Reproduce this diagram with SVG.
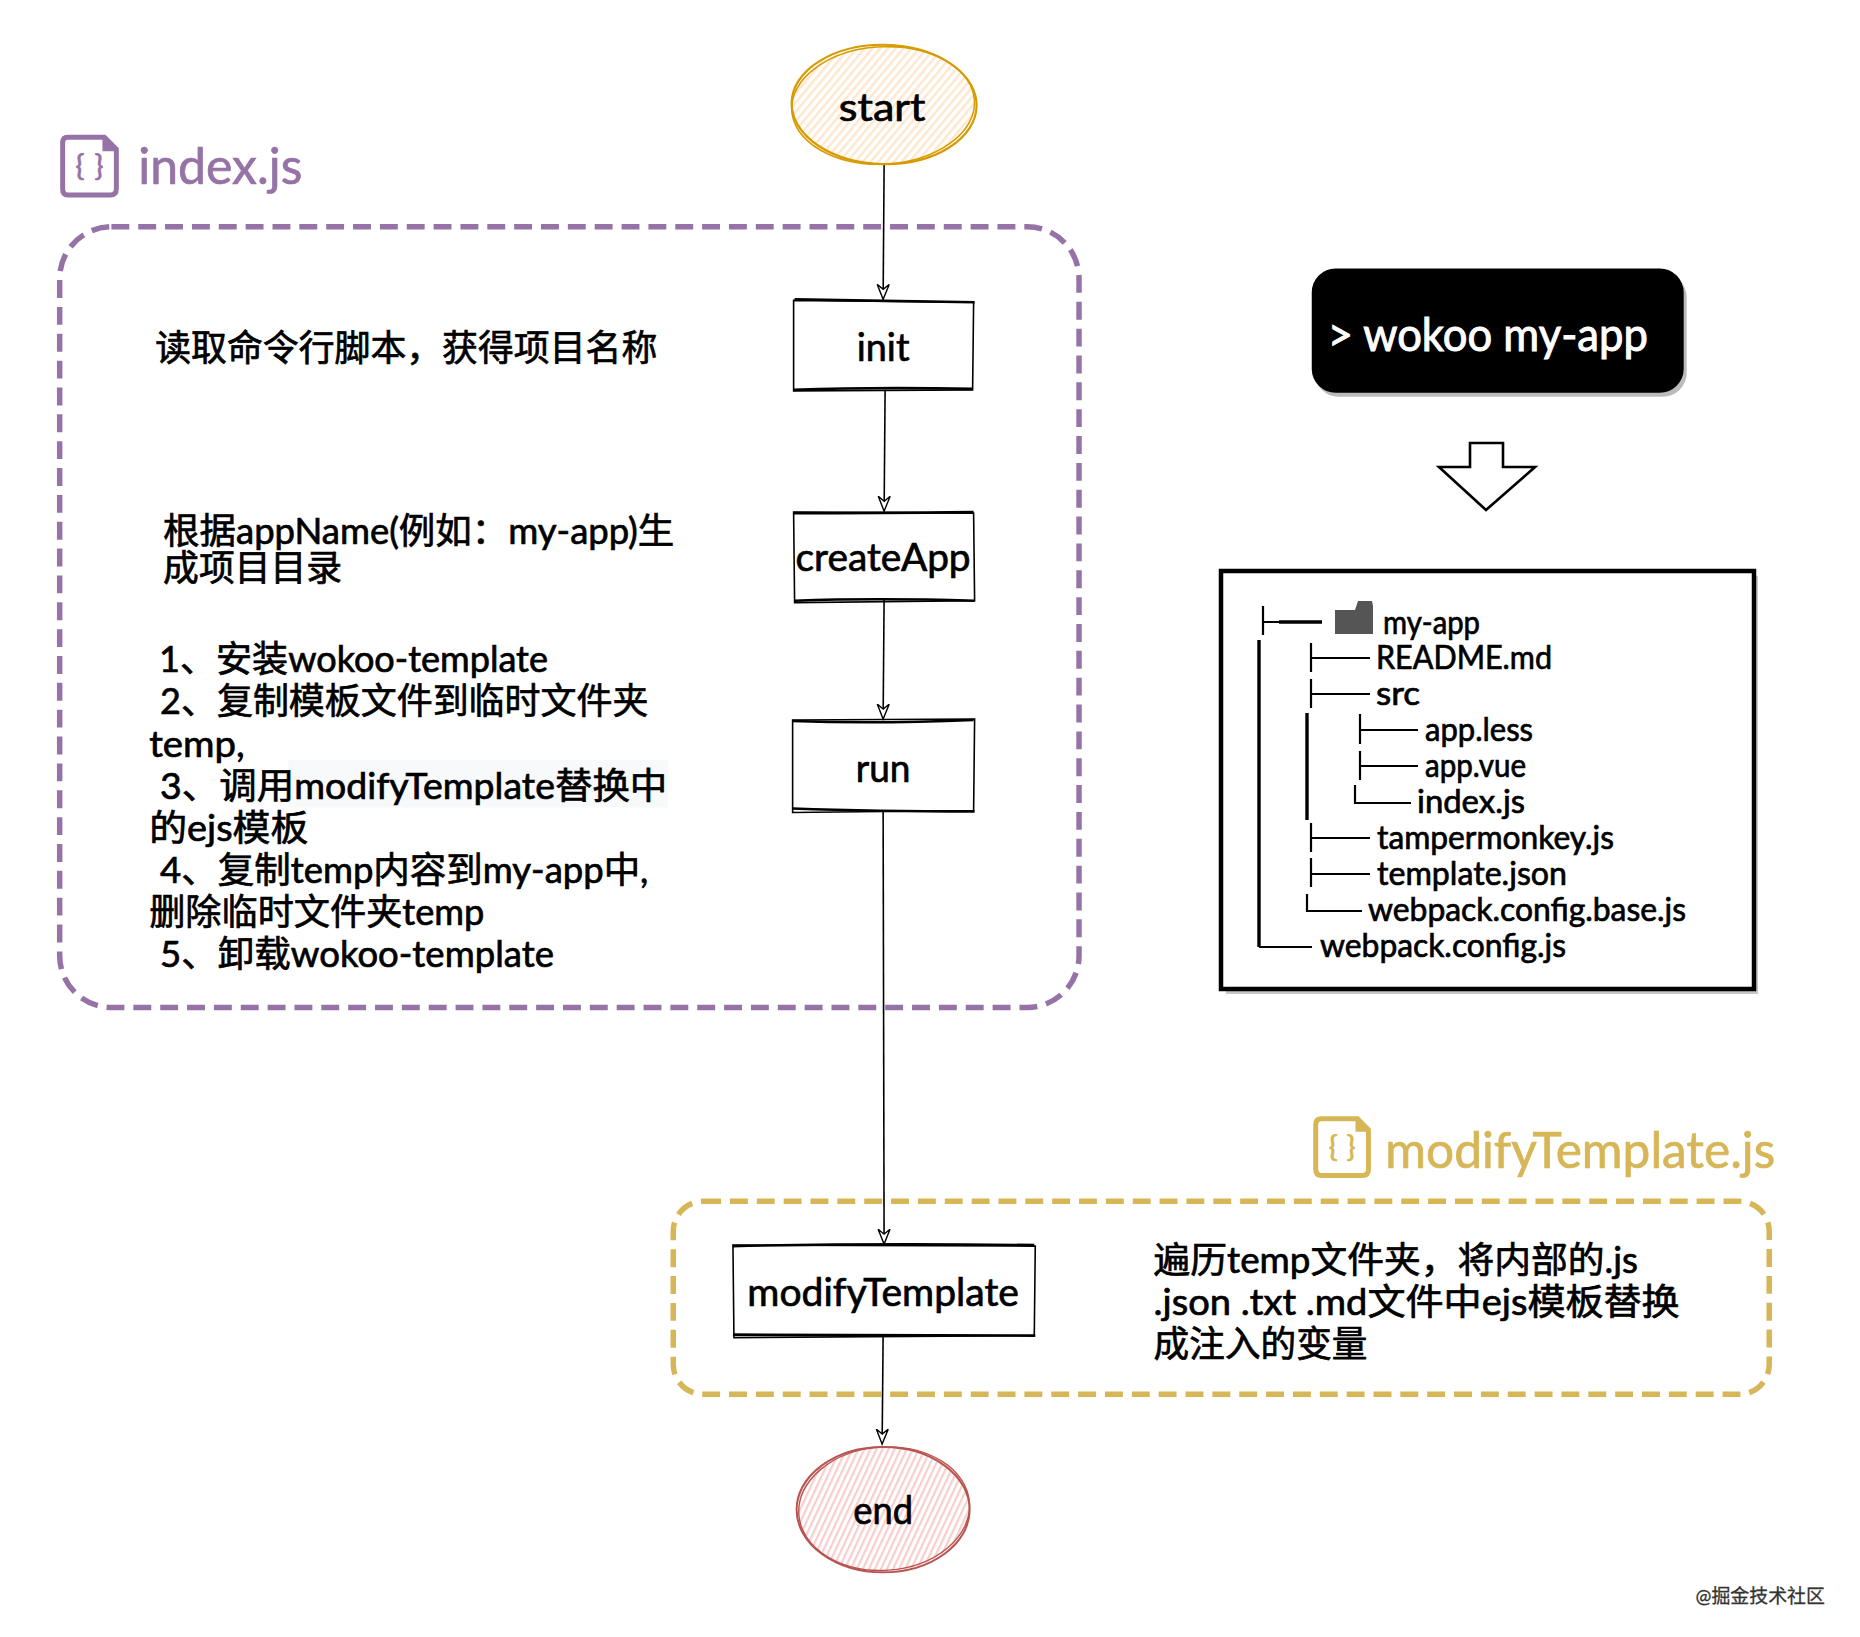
<svg xmlns="http://www.w3.org/2000/svg" width="1860" height="1637" viewBox="0 0 1860 1637">
<style>
text{font-family:"Lato","Noto Sans CJK SC","Noto Sans",sans-serif;fill:#000;stroke:#000;stroke-width:.7}
.lbl{font-size:38px;text-anchor:middle}
.t{font-size:36px}
.tree{font-size:32px}
.sk{fill:none;stroke:#000;stroke-width:1.6}
.skb{fill:none;stroke:#000;stroke-width:2.6}
.e{stroke:#000;stroke-width:1.6;fill:none;marker-end:url(#arr)}
.tl{fill:none;stroke:#000;stroke-width:2.2}
.tlb{fill:none;stroke:#000;stroke-width:3.4}
.pur{fill:#9673a6;stroke:#9673a6}
.yel{fill:#d6b656;stroke:#d6b656}
</style>
<defs>
<marker id="arr" markerUnits="userSpaceOnUse" markerWidth="20" markerHeight="18" refX="15" refY="7" orient="auto" viewBox="0 0 20 14">
<path d="M0,1 L15,7 L0,13 L5,7 Z" fill="#fff" stroke="#000" stroke-width="1.4"/>
</marker>
<pattern id="hOrange" width="6" height="6" patternUnits="userSpaceOnUse" patternTransform="rotate(-50)">
<rect width="6" height="6" fill="#fff"/><rect width="6" height="2.4" fill="#ffe6cc"/>
</pattern>
<pattern id="hRed" width="5.5" height="5.5" patternUnits="userSpaceOnUse" patternTransform="rotate(-65)">
<rect width="5.5" height="5.5" fill="#fff"/><rect width="5.5" height="2.2" fill="#f8cecc"/>
</pattern>
</defs>
<rect width="1860" height="1637" fill="#fff"/>

<g id="scaled" transform="scale(0.9945)">
<g id="index-group">
<rect x="60" y="228" width="1025" height="785" rx="52" fill="none" stroke="#9673a6" stroke-width="5.5" stroke-dasharray="18 9"/>
<path d="M68,138 H105 L117,150 V190 Q117,196 111,196 H68 Q63,196 63,190 V144 Q63,138 68,138 Z" fill="none" stroke="#9673a6" stroke-width="5"/>
<path d="M103,138 L117,152 H103 Z" fill="#9673a6"/>
<text class="pur" x="76" y="177" font-size="30" textLength="28" lengthAdjust="spacing">{}</text>
<text class="pur" x="139" y="185" font-size="50" textLength="165" lengthAdjust="spacingAndGlyphs">index.js</text>
</g>

<g id="modify-group">
<rect x="677" y="1208" width="1102" height="194" rx="30" fill="none" stroke="#d6b656" stroke-width="5.5" stroke-dasharray="18 9"/>
<path d="M1329,1125 H1365 L1376,1136 V1176 Q1376,1182 1370,1182 H1329 Q1323,1182 1323,1176 V1131 Q1323,1125 1329,1125 Z" fill="none" stroke="#d6b656" stroke-width="5"/>
<path d="M1363,1125 L1376,1138 H1363 Z" fill="#d6b656"/>
<text class="yel" x="1336" y="1163" font-size="30" textLength="27" lengthAdjust="spacing">{}</text>
<text class="yel" x="1393" y="1174" font-size="50" textLength="392" lengthAdjust="spacingAndGlyphs">modifyTemplate.js</text>
</g>

<g id="connectors">
<path class="e" d="M889,166 L888,301"/>
<path class="e" d="M890,392 L889,514"/>
<path class="e" d="M889,602 L888,723"/>
<path class="e" d="M888,815 L889,1251"/>
<path class="e" d="M888,1343 L887,1452"/>
</g>

<g id="start">
<ellipse cx="888" cy="105" rx="92" ry="59" fill="url(#hOrange)"/>
<ellipse cx="889" cy="105" rx="93" ry="60" fill="none" stroke="#d79b00" stroke-width="2.2" transform="rotate(1 889 105)"/>
<ellipse cx="888" cy="106" rx="92" ry="59" fill="none" stroke="#d79b00" stroke-width="1.6" transform="rotate(-3 888 106)"/>
<text class="lbl" x="887" y="122" textLength="87" lengthAdjust="spacingAndGlyphs">start</text>
</g>

<g id="init">
<path class="sk" d="M798,302 L979,304 L978,392 L798,393 Z"/>
<path class="skb" d="M799,301 Q880,302 980,304 M798,392 Q880,389 978,391"/>
<text class="lbl" x="888" y="363" textLength="53" lengthAdjust="spacingAndGlyphs">init</text>
</g>

<g id="createApp">
<path class="sk" d="M798,515 L979,516 L980,604 L799,606 Z"/>
<path class="skb" d="M798,516 Q880,516 979,515 M799,604 Q880,601 980,604"/>
<text class="lbl" x="888" y="574" textLength="176" lengthAdjust="spacingAndGlyphs">createApp</text>
</g>

<g id="run">
<path class="sk" d="M797,724 L980,723 L979,815 L797,817 Z"/>
<path class="skb" d="M797,725 Q880,728 979,724 M797,813 Q880,816 980,816"/>
<text class="lbl" x="888" y="786" textLength="55" lengthAdjust="spacingAndGlyphs">run</text>
</g>

<g id="modifyTemplate">
<path class="sk" d="M737,1252 L1041,1253 L1040,1343 L738,1345 Z"/>
<path class="skb" d="M737,1253 Q880,1250 1040,1252 M737,1342 Q880,1342 1041,1343"/>
<text class="lbl" x="888" y="1313" textLength="273" lengthAdjust="spacingAndGlyphs">modifyTemplate</text>
</g>

<g id="end">
<ellipse cx="888" cy="1518" rx="86" ry="62" fill="url(#hRed)"/>
<ellipse cx="888" cy="1518" rx="87" ry="63" fill="none" stroke="#b85450" stroke-width="2"/>
<ellipse cx="889" cy="1517" rx="86" ry="62" fill="none" stroke="#b85450" stroke-width="1.4" transform="rotate(-4 889 1517)"/>
<text class="lbl" x="888" y="1532" textLength="60" lengthAdjust="spacingAndGlyphs">end</text>
</g>

<g id="text-init"><text class="t" x="156" y="363" textLength="505" lengthAdjust="spacingAndGlyphs">读取命令行脚本，获得项目名称</text></g>

<g id="text-createApp">
<text class="t" x="164" y="547" textLength="514" lengthAdjust="spacingAndGlyphs">根据appName(例如：my-app)生</text>
<text class="t" x="164" y="584" textLength="180" lengthAdjust="spacingAndGlyphs">成项目目录</text>
</g>

<g id="text-run">
<rect x="290" y="764" width="382" height="48" fill="#f8f9fa"/>
<text class="t" x="160" y="676" textLength="391" lengthAdjust="spacingAndGlyphs">1、安装wokoo-template</text>
<text class="t" x="161" y="718" textLength="491" lengthAdjust="spacingAndGlyphs">2、复制模板文件到临时文件夹</text>
<text class="t" x="150" y="761" textLength="96" lengthAdjust="spacingAndGlyphs">temp,</text>
<text class="t" x="161" y="803" textLength="510" lengthAdjust="spacingAndGlyphs">3、调用modifyTemplate替换中</text>
<text class="t" x="150" y="846" textLength="160" lengthAdjust="spacingAndGlyphs">的ejs模板</text>
<text class="t" x="161" y="888" textLength="491" lengthAdjust="spacingAndGlyphs">4、复制temp内容到my-app中,</text>
<text class="t" x="150" y="930" textLength="337" lengthAdjust="spacingAndGlyphs">删除临时文件夹temp</text>
<text class="t" x="161" y="972" textLength="396" lengthAdjust="spacingAndGlyphs">5、卸载wokoo-template</text>
</g>

<g id="text-modify">
<text class="t" x="1160" y="1280" textLength="487" lengthAdjust="spacingAndGlyphs">遍历temp文件夹，将内部的.js</text>
<text class="t" x="1160" y="1322" textLength="529" lengthAdjust="spacingAndGlyphs">.json .txt .md文件中ejs模板替换</text>
<text class="t" x="1160" y="1365" textLength="215" lengthAdjust="spacingAndGlyphs">成注入的变量</text>
</g>

<g id="command">
<rect x="1322" y="275" width="374" height="124" rx="24" fill="#bbb"/>
<rect x="1319" y="270" width="374" height="125" rx="24" fill="#000"/>
<text x="1335" y="353" font-size="46" style="fill:#fff;stroke:#fff;stroke-width:1" textLength="322" lengthAdjust="spacingAndGlyphs">&gt; wokoo my-app</text>
</g>

<g id="watermark"><text x="1705" y="1612" font-size="20" style="fill:#333;stroke:#333;stroke-width:.3" textLength="130" lengthAdjust="spacingAndGlyphs">@掘金技术社区</text></g>
</g>

<g id="down-arrow">
<path d="M1470,443 H1503 V467 H1535 L1486,510 L1439,467 H1470 Z" fill="#fff" stroke="#000" stroke-width="2.6"/>
</g>

<g id="tree-box">
<rect x="1226" y="576" width="532" height="418" fill="#c8c8c8"/>
<rect x="1221" y="571" width="533" height="418" fill="#fff" stroke="#000" stroke-width="4.5"/>
<path d="M1335,610 H1355 L1358,601 H1372 L1373,606 V634 H1335 Z" fill="#555"/>
<path class="tl" d="M1263,606 V635 M1263,622 H1280"/><path class="tlb" d="M1279,622 H1322"/>
<path class="tlb" d="M1259,640 V947"/><path class="tl" d="M1259,947 H1312"/>
<path class="tl" d="M1311,643 V672 M1311,658 H1370"/>
<path class="tl" d="M1311,679 V708 M1311,694 H1370"/>
<path class="tlb" d="M1307,713 V820"/>
<path class="tl" d="M1360,714 V744 M1360,730 H1418"/>
<path class="tl" d="M1360,751 V780 M1360,766 H1418"/>
<path class="tl" d="M1355,785 V803 H1411"/>
<path class="tl" d="M1311,823 V852 M1311,838 H1370"/>
<path class="tl" d="M1311,858 V887 M1311,874 H1370"/>
<path class="tl" d="M1307,894 V911 H1362"/>
<text class="tree" x="1383" y="634" textLength="97" lengthAdjust="spacingAndGlyphs">my-app</text>
<text class="tree" x="1376" y="669" textLength="176" lengthAdjust="spacingAndGlyphs">README.md</text>
<text class="tree" x="1376" y="705" textLength="44" lengthAdjust="spacingAndGlyphs">src</text>
<text class="tree" x="1425" y="741" textLength="108" lengthAdjust="spacingAndGlyphs">app.less</text>
<text class="tree" x="1425" y="777" textLength="101" lengthAdjust="spacingAndGlyphs">app.vue</text>
<text class="tree" x="1417" y="813" textLength="108" lengthAdjust="spacingAndGlyphs">index.js</text>
<text class="tree" x="1377" y="849" textLength="237" lengthAdjust="spacingAndGlyphs">tampermonkey.js</text>
<text class="tree" x="1377" y="885" textLength="190" lengthAdjust="spacingAndGlyphs">template.json</text>
<text class="tree" x="1368" y="921" textLength="318" lengthAdjust="spacingAndGlyphs">webpack.config.base.js</text>
<text class="tree" x="1320" y="957" textLength="246" lengthAdjust="spacingAndGlyphs">webpack.config.js</text>
</g>
</svg>
